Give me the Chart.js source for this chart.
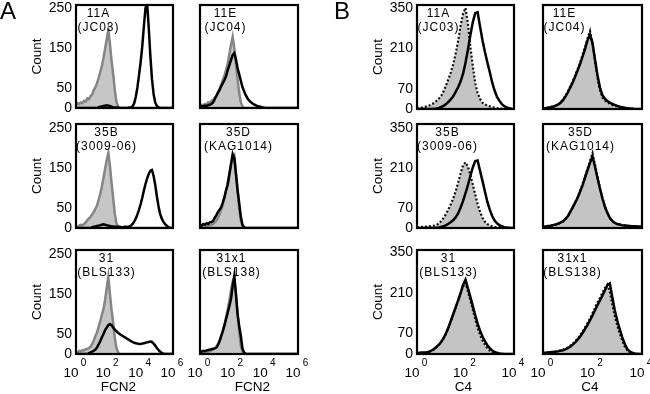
<!DOCTYPE html>
<html><head><meta charset="utf-8">
<script src="https://cdn.jsdelivr.net/npm/chart.js@4.4.1/dist/chart.umd.min.js"></script>
<style>
html,body{margin:0;padding:0;background:#fff;overflow:hidden}
#wrap{position:relative;width:650px;height:394px;background:#fff}
#wrap canvas{position:absolute;left:0;top:0}
</style></head><body><div id="wrap"></div>
<script>
// ---- bins (log10 of fluorescence) ----
const binsA=[0,0.1,0.2,0.3,0.4,0.5,0.6,0.7,0.8,0.9,1,1.1,1.2,1.3,1.4,1.5,1.6,1.7,1.8,1.9,2,2.1,2.2,2.3,2.4,2.5,2.6,2.7,2.8,2.9,3,3.1,3.2,3.3,3.4,3.5,3.6,3.7,3.8,3.9,4,4.1,4.2,4.3,4.4,4.5,4.6,4.7,4.8,4.9,5,5.1,5.2,5.3,5.4,5.5,5.6,5.7,5.8,5.9,6];
const binsB=[0,0.1,0.2,0.3,0.4,0.5,0.6,0.7,0.8,0.9,1,1.1,1.2,1.3,1.4,1.5,1.6,1.7,1.8,1.9,2,2.1,2.2,2.3,2.4,2.5,2.6,2.7,2.8,2.9,3,3.1,3.2,3.3,3.4,3.5,3.6,3.7,3.8,3.9,4];
const xTicksA=[0,2,4,6];
const xTicksB=[0,2,4];
const yTicksA=[0,50,150,250];
const yTicksB=[0,70,210,350];
const namesA=[['11A','(JC03)'],['11E','(JC04)'],['35B','(3009-06)'],['35D','(KAG1014)'],['31','(BLS133)'],['31x1','(BLS138)']];
const namesB=namesA;

// ---- panel A : FCN2 counts (control = grey, sample = black) ----
const a1Ctrl=[8,12,10,14,12,18,16,24,22,30,34,45,52,62,75,90,105,125,148,172,195,160,118,85,45,16,4,0,0,0,0,0,0,0,0,0,0,0,0,0,0,0,0,0,0,0,0,0,0,0,0,0,0,0,0,0,0,0,0,0,0];
const a1Line=[0,0,0,0,0,0,0,0,0,0,0,0,0,0,2,3,4,5,6,7,6,5,3,2,1,1,1,0,0,0,0,0,0,1,1,4,12,28,52,82,115,155,205,250,262,200,130,72,35,14,5,2,0,0,0,0,0,0,0,0,0];
const a2Ctrl=[6,8,7,10,9,14,12,18,20,26,30,40,48,58,70,82,96,112,135,158,178,150,110,72,38,14,4,0,0,0,0,0,0,0,0,0,0,0,0,0,0,0,0,0,0,0,0,0,0,0,0,0,0,0,0,0,0,0,0,0,0];
const a2Line=[2,5,4,6,5,7,8,10,14,22,30,38,45,55,62,70,80,95,107,120,132,137,122,100,84,68,52,42,32,25,19,15,12,9,7,5,4,3,2,1,0,0,0,0,0,0,0,0,0,0,0,0,0,0,0,0,0,0,0,0,0];
const a3Ctrl=[0,3,6,8,7,10,14,20,24,28,34,40,48,56,70,85,104,125,148,170,187,155,112,75,36,12,3,0,0,0,0,0,0,0,0,0,0,0,0,0,0,0,0,0,0,0,0,0,0,0,0,0,0,0,0,0,0,0,0,0,0];
const a3Line=[0,0,0,0,0,0,0,0,0,0,2,3,4,5,6,7,8,9,8,7,6,5,4,4,3,3,3,3,2,2,3,3,2,4,6,10,16,24,34,46,60,76,94,110,124,135,143,145,130,108,80,55,36,24,16,10,6,3,1,0,0];
const a4Ctrl=[0,2,3,4,4,6,7,8,10,14,18,26,35,46,60,76,95,115,135,158,176,182,140,92,50,18,5,0,0,0,0,0,0,0,0,0,0,0,0,0,0,0,0,0,0,0,0,0,0,0,0,0,0,0,0,0,0,0,0,0,0];
const a4Line=[4,6,10,8,12,10,14,15,18,25,32,40,46,52,64,78,95,108,135,160,185,175,135,95,62,28,8,2,0,0,0,0,0,0,0,0,0,0,0,0,0,0,0,0,0,0,0,0,0,0,0,0,0,0,0,0,0,0,0,0,0];
const a5Ctrl=[0,4,8,7,10,9,12,13,15,18,25,34,45,54,68,82,98,112,135,165,193,150,110,78,40,15,5,0,0,0,0,0,0,0,0,0,0,0,0,0,0,0,0,0,0,0,0,0,0,0,0,0,0,0,0,0,0,0,0,0,0];
const a5Line=[0,0,0,0,0,0,0,0,2,4,6,8,11,16,24,32,42,50,60,66,72,75,72,66,61,57,53,50,47,45,42,40,37,35,32,30,28,27,26,25,25,26,27,28,29,30,31,30,26,21,15,10,6,3,1,0,0,0,0,0,0];
const a6Ctrl=[0,2,3,4,5,6,7,9,11,14,18,25,34,45,58,74,92,112,134,160,182,190,150,100,55,20,5,0,0,0,0,0,0,0,0,0,0,0,0,0,0,0,0,0,0,0,0,0,0,0,0,0,0,0,0,0,0,0,0,0,0];
const a6Line=[3,6,8,7,9,10,11,12,13,14,16,22,32,45,58,72,88,104,120,138,170,195,150,100,70,45,14,4,0,0,0,0,0,0,0,0,0,0,0,0,0,0,0,0,0,0,0,0,0,0,0,0,0,0,0,0,0,0,0,0,0];

// ---- panel B : C4 counts (control = grey + dotted, sample = solid) ----
const b1Ctrl=[2,4,5,7,9,12,16,21,28,36,46,62,82,104,128,157,195,237,290,330,350,295,215,150,90,55,35,22,16,12,9,6,5,3,2,1,0,0,0,0,0];
const b1Line=[0,0,0,0,0,0,0,1,2,4,7,11,17,25,34,45,60,76,96,122,160,205,255,300,332,335,285,238,198,162,128,92,64,42,28,17,10,5,3,1,0];
const b2Ctrl=[2,4,5,7,9,12,16,22,32,45,60,78,96,116,138,160,188,214,245,270,225,168,110,66,40,30,24,18,14,11,9,7,5,4,3,2,1,0,0,0,0];
const b2Line=[1,3,4,6,8,11,15,21,30,42,57,74,92,112,134,156,182,208,238,258,228,172,118,75,48,36,28,22,18,14,11,8,6,4,3,2,1,0,0,0,0];
const b3Ctrl=[2,3,4,5,5,6,7,8,10,16,24,36,50,66,84,105,130,160,192,220,230,215,185,152,118,84,56,36,22,14,9,6,4,3,2,1,0,0,0,0,0];
const b3Line=[0,0,0,0,0,0,0,0,1,2,4,6,10,15,21,28,38,52,72,95,122,150,182,212,234,236,200,165,128,92,64,42,26,16,10,6,3,2,1,0,0];
const b4Ctrl=[3,5,6,7,9,11,14,18,22,30,40,56,72,90,108,130,154,180,208,235,262,222,180,140,105,75,52,35,24,17,13,11,10,9,8,7,6,5,5,4,4];
const b4Line=[4,5,7,8,10,12,15,19,23,31,41,56,72,89,106,128,150,176,203,228,250,215,176,138,104,75,53,36,25,18,14,12,10,9,8,7,6,6,5,5,4];
const b5Ctrl=[2,3,4,4,5,7,11,16,23,31,41,54,71,91,114,137,160,184,208,232,245,215,185,152,120,90,66,46,32,20,12,7,4,2,1,0,0,0,0,0,0];
const b5Line=[3,4,5,5,6,8,12,17,24,32,42,55,72,92,115,138,162,185,210,238,255,225,196,165,134,104,80,60,44,30,20,12,7,4,2,1,0,0,0,0,0];
const b6Ctrl=[3,4,5,6,7,8,10,12,14,18,22,28,35,44,53,64,77,92,106,122,140,158,176,192,210,226,238,215,170,130,98,70,46,26,13,6,3,1,0,0,0];
const b6Line=[3,4,5,6,7,8,9,11,13,16,20,25,32,40,49,60,72,86,100,116,132,150,168,184,200,218,236,242,195,150,115,85,58,35,18,9,4,2,1,0,0];

// ---- layout (positions / styles only) ----
const FONT='"Liberation Sans", Arial, Helvetica, sans-serif';
const layout={
  A:{cols:[[76,173],[200,298]],rows:[[5,108,257.5],[124,228,260],[250,354,260]],countX:37,tickRight:72,
     titleX:[118.5,252.5],title:'FCN2',dx:[[22,25],[30,38],[30,31]],xmax:6,bins:binsA,xt:xTicksA,yt:yTicksA,names:namesA,
     letter:{t:'A',x:8,y:12}},
  B:{cols:[[417,514],[543,642]],rows:[[5,109,360],[124,228,364],[250,354,357]],countX:378,tickRight:413,
     titleX:[463.5,590],title:'C4',dx:[[21,21],[30,37],[31,29]],xmax:4,bins:binsB,xt:xTicksB,yt:yTicksB,names:namesB,
     letter:{t:'B',x:342,y:12}}
};
const series={
  A:[[a1Ctrl,a1Line],[a2Ctrl,a2Line],[a3Ctrl,a3Line],[a4Ctrl,a4Line],[a5Ctrl,a5Line],[a6Ctrl,a6Line]],
  B:[[b1Ctrl,b1Line],[b2Ctrl,b2Line],[b3Ctrl,b3Line],[b4Ctrl,b4Line],[b5Ctrl,b5Line],[b6Ctrl,b6Line]]
};

const wrap=document.getElementById('wrap');
function pts(bins,vals){return bins.map((b,i)=>({x:b,y:vals[i]}));}

function makePanel(sec,idx){
  const L=layout[sec];
  const col=idx%2,row=Math.floor(idx/2);
  const [x0,x1]=L.cols[col];
  const [y0,y1,ymax]=L.rows[row];
  const [ctrl,line]=series[sec][idx];
  const c=document.createElement('canvas');
  c.width=650;c.height=394;c.style.width='650px';c.style.height='394px';
  wrap.appendChild(c);
  const isA=sec==='A';
  const plugin={
    id:'panelDeco',
    afterDraw(chart){
      const ctx=chart.ctx,a=chart.chartArea;
      const xs=chart.scales.x,ys=chart.scales.y;
      ctx.save();
      ctx.strokeStyle='#000';ctx.lineWidth=2.2;
      ctx.strokeRect(a.left,a.top,a.right-a.left,a.bottom-a.top);
      ctx.fillStyle='#000';
      ctx.font='12px '+FONT;ctx.textAlign='center';ctx.textBaseline='middle';
      try{ctx.letterSpacing='1px';}catch(e){}
      const nm=L.names[idx];
      const cx=a.left+L.dx[row][col];
      ctx.fillText(nm[0],cx+0.5,a.top+9);
      ctx.fillText(nm[1],cx+0.5,a.top+22.5);
      try{ctx.letterSpacing='0px';}catch(e){}
      if(col===0){
        ctx.font='14px '+FONT;ctx.textAlign='right';ctx.textBaseline='middle';
        L.yt.forEach(v=>ctx.fillText(String(v),L.tickRight,ys.getPixelForValue(v)));
        ctx.save();
        ctx.translate(L.countX,(a.top+a.bottom)/2);ctx.rotate(-Math.PI/2);
        ctx.font='13.5px '+FONT;ctx.textAlign='center';ctx.textBaseline='middle';
        ctx.fillText('Count',0,0);
        ctx.restore();
      }
      if(row===2){
        L.xt.forEach(t=>{
          const px=xs.getPixelForValue(t);
          ctx.font='13.5px '+FONT;ctx.textAlign='center';ctx.textBaseline='middle';
          ctx.fillText('10',px-5,373);
          ctx.font='10px '+FONT;
          ctx.fillText(String(t),px+7.5,363);
        });
        ctx.font='13.5px '+FONT;ctx.textAlign='center';ctx.textBaseline='middle';
        ctx.fillText(L.title,L.titleX[col],387);
      }
      if(idx===0){
        ctx.font='24px '+FONT;ctx.textAlign='center';ctx.textBaseline='middle';
        ctx.fillText(L.letter.t,L.letter.x,L.letter.y);
      }
      ctx.restore();
    }
  };
  new Chart(c,{
    type:'line',
    data:{datasets:[
      {data:pts(L.bins,line),borderColor:'#000',borderWidth:2.5,fill:false,pointRadius:0,tension:0,clip:0},
      {data:pts(L.bins,ctrl),borderColor:isA?'#858585':'#111',borderWidth:isA?2.5:2.2,borderDash:isA?[]:[2,2],
       backgroundColor:isA?'#c6c6c6':'#c4c4c4',fill:'origin',pointRadius:0,tension:0,clip:0}
    ]},
    options:{
      responsive:false,animation:false,events:[],devicePixelRatio:1,
      layout:{padding:{left:x0,top:y0,right:650-x1,bottom:394-y1}},
      scales:{
        x:{type:'linear',min:0,max:L.xmax,display:false},
        y:{type:'linear',min:0,max:ymax,display:false}
      },
      plugins:{legend:{display:false},tooltip:{enabled:false},title:{display:false}}
    },
    plugins:[plugin]
  });
}
['A','B'].forEach(s=>{for(let i=0;i<6;i++)makePanel(s,i);});
</script></body></html>
